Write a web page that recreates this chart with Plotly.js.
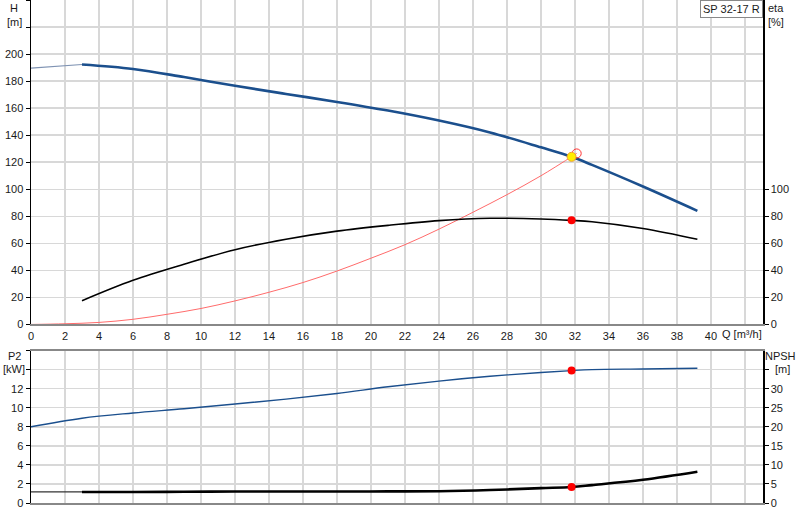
<!DOCTYPE html>
<html lang="en">
<head>
    <meta charset="UTF-8">
    <title>SP 32-17 R</title>
    <script src="https://cdn.plot.ly/plotly-3.0.1.min.js"></script>
    <style>
        body { margin: 0; background: #fff; }
    </style>
</head>
<body>
<div id="plot" style="width:800px;height:520px;"></div>
<script>
    // head curve (H, m) - thin start, then the thick part
    let qHeadStart = [0, 3]
    let headStart = [189.6, 192.3]
    let qHead = [3, 6, 9, 12, 15, 18, 21, 24, 27, 30, 31.8, 33, 36, 39.2]
    let head = [192.3, 189, 183, 176.5, 170.5, 164.6, 158.2, 150.8, 142, 131, 124, 118, 102, 84]

    // efficiency (eta, %)
    let qEta = [3, 6, 9, 12, 15, 18, 21, 24, 27, 30, 31.8, 33, 36, 39.2]
    let eta = [17.5, 32.6, 44.5, 55.3, 63, 69, 73.3, 76.8, 78.5, 78, 77, 76, 71, 63]

    // system curve (red)
    let qSys = [0, 2, 4, 6, 8, 10, 12, 14, 16, 18, 20, 22, 24, 26, 28, 30, 32.1]
    let sys = [0, 0.5, 1.5, 3.8, 7.5, 11.8, 17.4, 23.8, 31, 39.5, 49, 59, 70.5, 83, 96, 110, 126.5]

    // shaft power P2 (kW)
    let qP2 = [0, 3, 6, 9, 12, 15, 18, 21, 24, 27, 30, 31.8, 33, 36, 39.2]
    let p2 = [8.0, 8.9, 9.45, 9.9, 10.4, 10.9, 11.5, 12.2, 12.8, 13.3, 13.7, 13.9, 14.0, 14.07, 14.15]

    // NPSH (m)
    let qNpshStart = [0, 3]
    let npshStart = [2.9, 2.9]
    let qNpsh = [3, 6, 9, 12, 15, 18, 21, 24, 27, 30, 31.8, 33, 36, 39.2]
    let npsh = [2.9, 2.9, 2.95, 3.0, 3.0, 3.0, 3.05, 3.1, 3.4, 3.9, 4.2, 4.7, 6.1, 8.2]

    // duty point
    let dutyQ = 31.8
    let dutyH = 124
    let dutyEta = 77
    let dutyP2 = 13.9
    let dutyNpsh = 4.2
    let reqQ = 32.1
    let reqH = 126.5

    let xTicks = [0, 2, 4, 6, 8, 10, 12, 14, 16, 18, 20, 22, 24, 26, 28, 30, 32, 34, 36, 38, 40, 42]
    let xLabels = xTicks.map(v => v <= 40 ? String(v) : "")
    let hTicks = [0, 20, 40, 60, 80, 100, 120, 140, 160, 180, 200, 220, 240]
    let hLabels = hTicks.map(v => v <= 200 ? String(v) : "")
    let etaTicks = [0, 20, 40, 60, 80, 100]
    let p2Ticks = [0, 2, 4, 6, 8, 10, 12, 14, 16]
    let p2Labels = p2Ticks.map(v => v <= 12 ? String(v) : "")
    let npshTicks = [0, 5, 10, 15, 20, 25, 30, 35]
    let npshLabels = npshTicks.map(v => v <= 30 ? String(v) : "")

    let blue = "#1b4f8d"
    let font = {family: "Liberation Sans, Arial, sans-serif", size: 11, color: "#1a1a1a"}

    // pixel -> paper helpers (plot area 31..763 x, 0..503 y)
    function px(x) { return (x - 31) / 732 }
    function py(y) { return (503 - y) / 503 }

    function label(text, x, y, anchor) {
        return {text: text, x: px(x), y: py(y), xref: "paper", yref: "paper",
            xanchor: anchor || "center", yanchor: "middle", showarrow: false, font: font}
    }

    let data = [
        {x: qSys, y: sys, type: "scatter", mode: "lines", line: {color: "#ff6b6b", width: 1, shape: "spline"}, xaxis: "x", yaxis: "y"},
        {x: qHeadStart, y: headStart, type: "scatter", mode: "lines", line: {color: "#7f93b3", width: 1.2}, xaxis: "x", yaxis: "y"},
        {x: qHead, y: head, type: "scatter", mode: "lines", line: {color: blue, width: 2.6, shape: "spline"}, xaxis: "x", yaxis: "y"},
        {x: qEta, y: eta, type: "scatter", mode: "lines", line: {color: "#000", width: 1.6, shape: "spline"}, xaxis: "x", yaxis: "y2"},
        {x: [reqQ], y: [reqH], type: "scatter", mode: "markers", marker: {size: 9, color: "rgba(0,0,0,0)", line: {color: "#ff3030", width: 1}}, xaxis: "x", yaxis: "y"},
        {x: [dutyQ], y: [dutyH], type: "scatter", mode: "markers", marker: {size: 9, color: "#ffee00", line: {color: "#f0a030", width: 1}}, xaxis: "x", yaxis: "y"},
        {x: [dutyQ], y: [dutyEta], type: "scatter", mode: "markers", marker: {size: 8, color: "#ff0000"}, xaxis: "x", yaxis: "y2"},

        {x: qP2, y: p2, type: "scatter", mode: "lines", line: {color: blue, width: 1.4, shape: "spline"}, xaxis: "x2", yaxis: "y3"},
        {x: qNpshStart, y: npshStart, type: "scatter", mode: "lines", line: {color: "#333", width: 1.2}, xaxis: "x2", yaxis: "y4"},
        {x: qNpsh, y: npsh, type: "scatter", mode: "lines", line: {color: "#000", width: 2.6, shape: "spline"}, xaxis: "x2", yaxis: "y4"},
        {x: [dutyQ], y: [dutyP2], type: "scatter", mode: "markers", marker: {size: 8, color: "#ff0000"}, xaxis: "x2", yaxis: "y3"},
        {x: [dutyQ], y: [dutyNpsh], type: "scatter", mode: "markers", marker: {size: 8, color: "#ff0000"}, xaxis: "x2", yaxis: "y4"}
    ]

    let grid = "#d8d8d8"

    let layout = {
        width: 800,
        height: 520,
        margin: {l: 31, r: 37, t: 0, b: 17, pad: 0},
        paper_bgcolor: "#fff",
        plot_bgcolor: "#fff",
        showlegend: false,
        font: font,
        xaxis: {
            domain: [0, 1], anchor: "y", range: [0, 43.06],
            tickmode: "array", tickvals: xTicks, ticktext: xLabels,
            showgrid: true, gridcolor: grid, gridwidth: 1.5, zeroline: false,
            showline: true, linecolor: "#888", linewidth: 2, mirror: true,
            ticks: "", tickfont: font
        },
        yaxis: {
            domain: [0.355, 1], anchor: "x", range: [0, 240],
            tickmode: "array", tickvals: hTicks, ticktext: hLabels,
            showgrid: true, gridcolor: grid, gridwidth: 1.5, zeroline: false,
            showline: true, linecolor: "#000", linewidth: 1.5,
            ticks: "outside", ticklen: 4, tickcolor: "#000", tickfont: font
        },
        yaxis2: {
            overlaying: "y", side: "right", anchor: "x", range: [0, 240],
            tickmode: "array", tickvals: etaTicks,
            showgrid: false, zeroline: false,
            showline: true, linecolor: "#000", linewidth: 1.5,
            ticks: "outside", ticklen: 4, tickcolor: "#000", tickfont: font
        },
        xaxis2: {
            domain: [0, 1], anchor: "y3", range: [0, 43.06],
            tickmode: "array", tickvals: xTicks,
            showticklabels: false,
            showgrid: true, gridcolor: grid, gridwidth: 1.5, zeroline: false,
            showline: true, linecolor: "#888", linewidth: 2, mirror: true,
            ticks: ""
        },
        yaxis3: {
            domain: [0, 0.303], anchor: "x2", range: [0, 16],
            tickmode: "array", tickvals: p2Ticks, ticktext: p2Labels,
            showgrid: true, gridcolor: grid, gridwidth: 1.5, zeroline: false,
            showline: true, linecolor: "#000", linewidth: 1.5,
            ticks: "outside", ticklen: 4, tickcolor: "#000", tickfont: font
        },
        yaxis4: {
            overlaying: "y3", side: "right", anchor: "x2", range: [0, 40],
            tickmode: "array", tickvals: npshTicks, ticktext: npshLabels,
            showgrid: false, zeroline: false,
            showline: true, linecolor: "#000", linewidth: 1.5,
            ticks: "outside", ticklen: 4, tickcolor: "#000", tickfont: font
        },
        annotations: [
            label("H", 14, 8),
            label("[m]", 14, 22),
            label("eta", 776, 8),
            label("[%]", 776, 22),
            label("Q [m³/h]", 720, 334, "left"),
            label("P2", 14, 356),
            label("[kW]", 14, 369),
            label("NPSH", 781, 356),
            label("[m]", 782, 369),
            {text: "SP 32-17 R", x: px(731), y: py(9), xref: "paper", yref: "paper",
                xanchor: "center", yanchor: "middle", showarrow: false,
                font: font, bgcolor: "#fff", bordercolor: "#888", borderwidth: 1, borderpad: 2}
        ]
    }

    Plotly.newPlot("plot", data, layout, {displayModeBar: false, staticPlot: true})
</script>
</body>
</html>
